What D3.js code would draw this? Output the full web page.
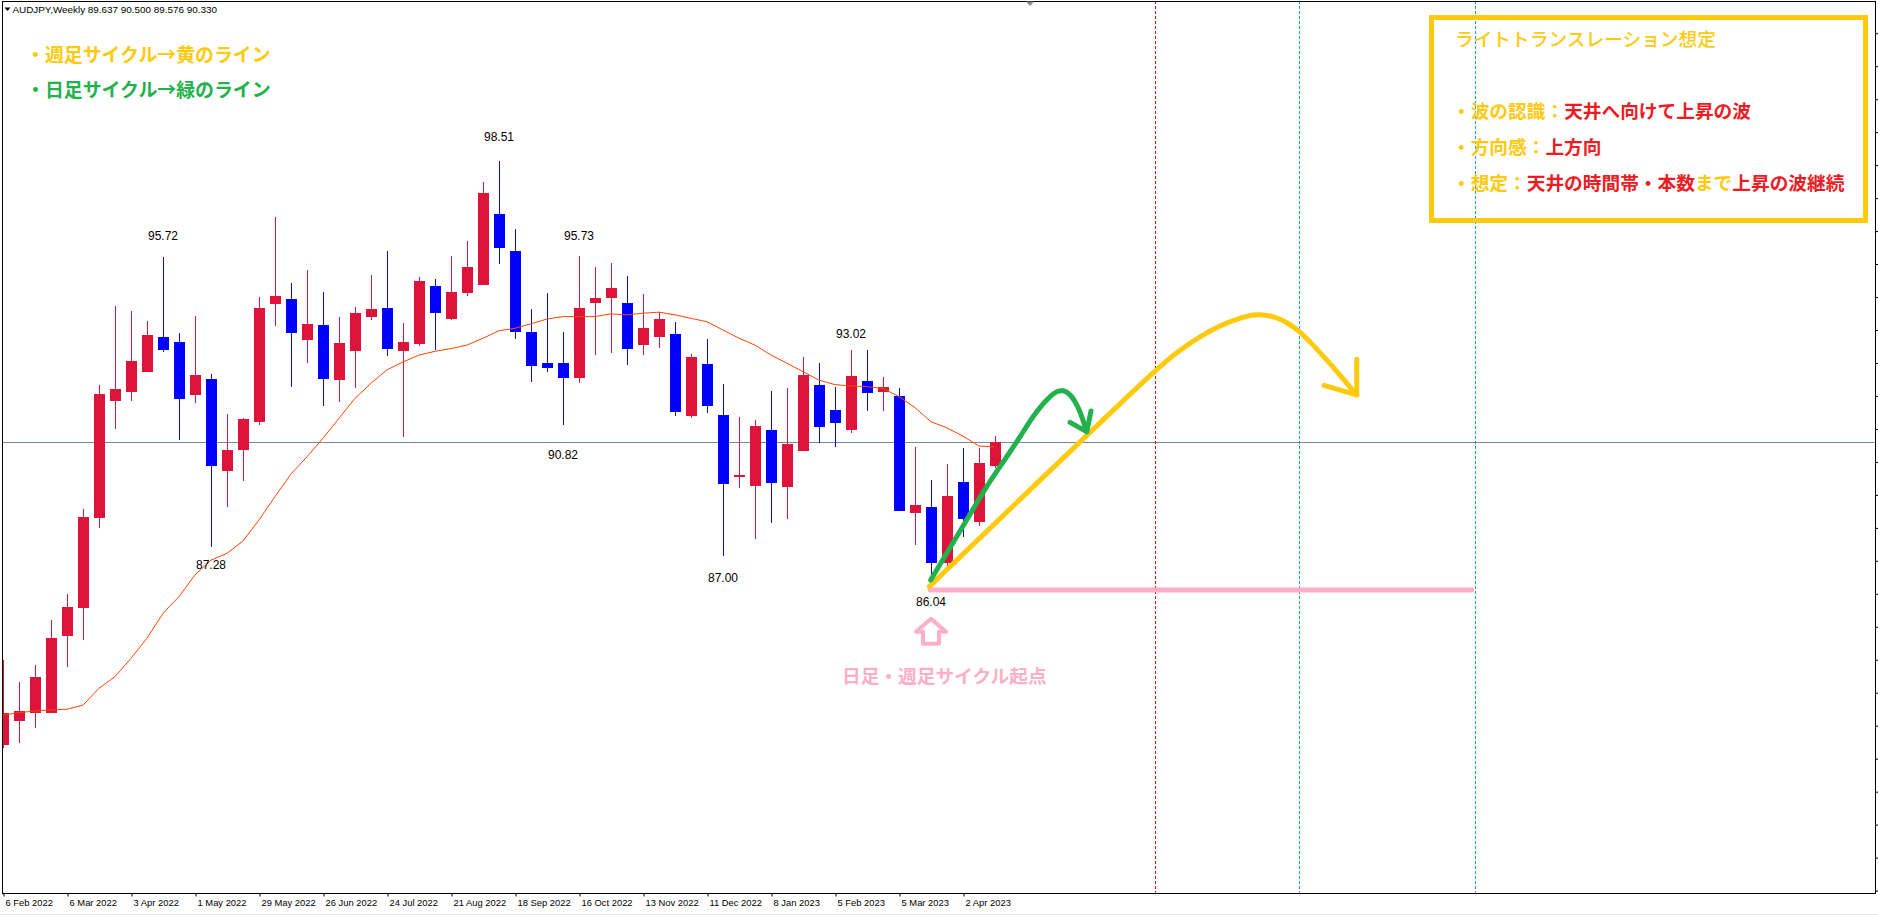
<!DOCTYPE html>
<html><head><meta charset="utf-8">
<script src="https://cdn.jsdelivr.net/npm/d3@7"></script>
<style>html,body{margin:0;padding:0;background:#fff;overflow:hidden}</style>
</head><body>
<svg id="c" width="1878" height="915"></svg>
<script>
// ---------------- DATA ----------------
const dateLabels = ["6 Feb 2022","6 Mar 2022","3 Apr 2022","1 May 2022","29 May 2022","26 Jun 2022","24 Jul 2022","21 Aug 2022","18 Sep 2022","16 Oct 2022","13 Nov 2022","11 Dec 2022","8 Jan 2023","5 Feb 2023","5 Mar 2023","2 Apr 2023"];
const dateLabelBars = [0,4,8,12,16,20,24,28,32,36,40,44,48,52,56,60];

const openP  = [81.51,82.22,82.45,82.43,84.69,85.51,88.13,91.53,91.79,92.38,93.39,93.24,91.71,92.16,89.49,90.11,90.92,94.36,94.49,93.31,93.74,92.13,92.99,93.98,94.23,92.99,93.18,94.87,93.91,94.67,94.91,96.97,95.89,93.53,92.62,92.62,92.20,94.39,94.53,94.38,93.15,93.39,93.47,91.09,92.60,91.12,89.31,89.06,90.68,89.03,90.08,91.99,91.26,90.69,92.11,91.79,91.67,88.27,88.44,86.80,89.17,88.01,89.637];
const highP  = [83.98,83.35,83.84,85.15,85.90,88.38,91.99,94.30,94.14,93.85,95.72,93.51,94.01,92.31,91.14,91.04,94.56,96.88,94.96,95.34,94.70,93.97,94.26,95.19,95.89,93.79,95.14,95.07,95.74,96.18,97.90,98.51,96.53,94.20,94.67,93.53,95.73,95.43,95.54,95.17,94.64,94.11,93.82,92.89,93.33,92.02,91.07,90.97,91.81,91.91,92.80,92.63,91.93,93.02,93.01,92.21,91.89,90.19,89.22,89.69,90.16,90.16,90.500];
const lowP   = [81.41,81.56,82.01,82.43,83.79,84.57,87.82,90.72,91.53,92.38,92.96,90.39,91.47,87.28,88.45,89.20,90.83,93.72,91.94,92.62,91.39,91.50,91.91,93.88,92.84,90.48,93.12,93.01,93.88,94.59,94.91,95.51,93.33,92.09,92.38,90.82,92.06,92.86,92.93,92.57,92.86,93.08,91.10,91.04,91.18,87.00,88.99,87.51,87.97,88.10,90.08,90.31,90.19,90.60,91.24,91.24,88.32,87.33,86.04,86.70,87.57,87.89,89.576];
const closeP = [82.43,82.50,83.50,84.63,85.54,88.16,91.73,91.87,92.70,93.44,93.02,91.59,92.28,89.64,90.10,91.00,94.23,94.59,93.49,93.77,92.16,93.21,94.09,94.20,93.05,93.24,95.02,94.09,94.70,95.42,97.58,95.99,93.54,92.55,92.49,92.20,94.23,94.52,94.81,93.05,93.65,93.91,91.20,92.80,91.39,89.11,89.36,90.80,89.14,90.28,92.28,90.78,90.89,92.25,91.77,91.92,88.33,88.50,86.82,88.77,88.10,89.72,90.330];
const maP    = [82.38,82.45,82.50,82.53,82.55,82.67,83.16,83.50,84.03,84.62,85.34,85.83,86.46,86.89,87.09,87.45,88.06,88.74,89.40,89.90,90.44,91.02,91.60,92.04,92.43,92.66,92.86,92.97,93.05,93.15,93.35,93.57,93.64,93.77,93.91,93.98,93.98,93.98,94.06,94.03,94.08,94.11,94.03,93.93,93.83,93.59,93.35,93.15,92.86,92.62,92.38,92.13,92.00,91.96,91.94,91.89,91.65,91.33,90.92,90.74,90.50,90.21,90.19];

const priceTicks = [102.23,101.27,100.31,99.35,98.39,97.43,96.47,95.51,94.55,93.59,92.63,91.67,90.71,89.75,88.79,87.83,86.87,85.91,84.95,83.99,83.03,82.07,81.11,80.15,79.19,78.23,77.27];

const swingBars   = [10, 13, 31, 35, 36, 45, 53, 58];
const swingValues = [95.72, 87.28, 98.51, 90.82, 95.73, 87.00, 93.02, 86.04];

const currentPrice = 90.330;
const headerText = "AUDJPY,Weekly  89.637 90.500 89.576 90.330";

// annotation drawings as [bar, price]
const yellowPath = [[57.89,86.12],[65.0,89.30],[72.11,92.48],[73.56,93.01],[74.81,93.40],[76.06,93.72],[77.31,93.95],[78.44,94.07],[79.50,93.98],[80.31,93.80],[81.06,93.54],[81.89,93.15],[82.73,92.72],[83.56,92.28],[84.61,91.70]];
const yellowHead = [[82.56,91.98],[84.61,91.70],[84.61,92.74]];
const greenPath  = [[57.98,86.31],[58.98,87.09],[60.23,88.06],[61.48,89.03],[62.73,89.90],[63.56,90.48],[64.39,91.07],[65.23,91.55],[65.86,91.79],[66.27,91.82],[66.69,91.70],[67.11,91.41],[67.42,91.07],[67.73,90.63]];
const greenHead  = [[66.69,90.90],[67.73,90.63],[68.0,91.23]];
const pinkLine   = [[57.94,86.02],[91.8,86.02]];
const redVLines  = [72];
const blueVLines = [81, 92];
const startBar = 58, startPrice = 86.04;

const legendLines = [
  {text:"・週足サイクル→黄のライン", color:"#FFC90E"},
  {text:"・日足サイクル→緑のライン", color:"#22B14C"}
];
const boxTitle = "ライトトランスレーション想定";
const boxLines = [
  [["・波の認識：","#FFC90E"],["天井へ向けて上昇の波","#ED1C24"]],
  [["・方向感：","#FFC90E"],["上方向","#ED1C24"]],
  [["・想定：","#FFC90E"],["天井の時間帯・本数","#ED1C24"],["まで","#FFC90E"],["上昇の波継続","#ED1C24"]]
];
const startNote = "日足・週足サイクル起点";

// ---------------- DRAW ----------------
const svg = d3.select("#c");
const L = 2, T = 1, R = 1875, B = 893;
const x = d3.scaleLinear().domain([0, 62]).range([3, 995]);
const y = d3.scaleLinear().domain([77.20, 103.168]).range([B, T]);

svg.append("rect").attr("width",1878).attr("height",915).attr("fill","#fff");
svg.append("defs").append("clipPath").attr("id","clip")
  .append("rect").attr("x",L+0.5).attr("y",T+0.5).attr("width",R-L-1).attr("height",B-T-1);

const plot = svg.append("g").attr("clip-path","url(#clip)");

// current price line (behind)
const cy = Math.round(y(currentPrice)) + 0.5;
plot.append("line").attr("x1",L).attr("x2",R).attr("y1",cy).attr("y2",cy)
  .attr("stroke","#778899").attr("stroke-width",1);

// vertical dashed lines
plot.selectAll(".vr").data(redVLines).join("line")
  .attr("x1",d=>Math.round(x(d))+0.5).attr("x2",d=>Math.round(x(d))+0.5)
  .attr("y1",T).attr("y2",B).attr("stroke","#E00000").attr("stroke-dasharray","3,2");
plot.selectAll(".vb").data(blueVLines).join("line")
  .attr("x1",d=>Math.round(x(d))+0.5).attr("x2",d=>Math.round(x(d))+0.5)
  .attr("y1",T).attr("y2",B).attr("stroke","#1E90FF").attr("stroke-dasharray","3,2");

// candles
const idx = d3.range(openP.length);
const up = i => closeP[i] >= openP[i];
const cg = plot.append("g").attr("shape-rendering","crispEdges");
cg.selectAll(".w").data(idx).join("line")
  .attr("x1",i=>Math.round(x(i))+0.5).attr("x2",i=>Math.round(x(i))+0.5)
  .attr("y1",i=>y(highP[i])).attr("y2",i=>y(lowP[i]))
  .attr("stroke",i=>up(i)?"#DC143C":"#0000FF");
cg.selectAll(".b").data(idx).join("rect")
  .attr("x",i=>Math.round(x(i))-5).attr("width",11)
  .attr("y",i=>y(Math.max(openP[i],closeP[i])))
  .attr("height",i=>Math.max(1.5, Math.abs(y(openP[i])-y(closeP[i]))))
  .attr("fill",i=>up(i)?"#DC143C":"#0000FF");

// moving average
plot.append("path").datum(idx)
  .attr("d", d3.line().x(i=>x(i)).y(i=>y(maP[i])))
  .attr("fill","none").attr("stroke","#FF4500").attr("stroke-width",1);

// swing labels
const swingDy = [-21, 18.3, -24.3, 29.8, -20.7, 21, -15.6, 12.3];
svg.selectAll(".sl").data(swingBars).join("text")
  .attr("x",(d)=>x(d)).attr("y",(d,i)=>y(swingValues[i])+swingDy[i])
  .attr("dy","0.35em").attr("text-anchor","middle")
  .attr("font-family","'Liberation Sans', Arial, sans-serif").attr("font-size",12)
  .attr("fill","#000").text((d,i)=>swingValues[i].toFixed(2));

// frame
svg.append("rect").attr("x",L+0.5).attr("y",T+0.5).attr("width",R-L).attr("height",B-T)
  .attr("fill","none").attr("stroke","#000").attr("stroke-width",1).attr("shape-rendering","crispEdges");
svg.append("line").attr("x1",0).attr("x2",1878).attr("y1",914.5).attr("y2",914.5).attr("stroke","#e3e3e3");

// time axis
const xAxis = d3.axisBottom(x).tickValues(dateLabelBars).tickSize(3).tickFormat((d,i)=>dateLabels[i]);
const gx = svg.append("g").attr("transform",`translate(0,${B+0.5})`).call(xAxis);
gx.select(".domain").remove();
gx.selectAll("line").attr("stroke","#000").attr("transform","translate(0.5,0)");
gx.selectAll("text").attr("text-anchor","start").attr("x",2).attr("y",9.5).attr("dy","0.32em")
  .attr("font-family","'Liberation Sans', Arial, sans-serif").attr("font-size",9.4).attr("fill","#000");

// price axis ticks (labels are off-canvas)
const yAxis = d3.axisRight(y).tickValues(priceTicks).tickSize(3).tickFormat("");
const gy = svg.append("g").attr("transform",`translate(${R+0.5},0)`).call(yAxis);
gy.select(".domain").remove();
gy.selectAll("line").attr("stroke","#000");

// header
svg.append("polygon").attr("points","4.5,7.5 10.5,7.5 7.5,11").attr("fill","#000");
svg.append("text").attr("x",12.5).attr("y",9.5).attr("dy","0.35em")
  .attr("font-family","'Liberation Sans', Arial, sans-serif").attr("font-size",9.9).attr("fill","#000")
  .text(headerText);
svg.append("polygon").attr("points","1026,1.5 1034,1.5 1030,6").attr("fill","#8a8a8a");

// drawings
const dl = d3.line().x(d=>x(d[0])).y(d=>y(d[1]));
const dlc = d3.line().x(d=>x(d[0])).y(d=>y(d[1])).curve(d3.curveCatmullRom.alpha(0.5));
const dlb = d3.line().x(d=>x(d[0])).y(d=>y(d[1])).curve(d3.curveBasis);
const draw = svg.append("g").attr("fill","none").attr("stroke-linecap","round").attr("stroke-linejoin","round");
draw.append("path").attr("d",dl(pinkLine)).attr("stroke","#FFAEC9").attr("stroke-width",5);
draw.append("path").attr("d",dlb(yellowPath)).attr("stroke","#FFC90E").attr("stroke-width",5);
draw.append("path").attr("d",dl(yellowHead)).attr("stroke","#FFC90E").attr("stroke-width",5);
draw.append("path").attr("d",dlc(greenPath)).attr("stroke","#22B14C").attr("stroke-width",5);
draw.append("path").attr("d",dl(greenHead)).attr("stroke","#22B14C").attr("stroke-width",5);

// hollow pink arrow below the start point
const ax = x(startBar), ay = y(startPrice) + 29.5;
draw.append("path")
  .attr("d",`M${ax},${ay} L${ax+15},${ay+13} L${ax+8},${ay+13} L${ax+8},${ay+25} L${ax-8},${ay+25} L${ax-8},${ay+13} L${ax-15},${ay+13} Z`)
  .attr("stroke","#FFAEC9").attr("stroke-width",4).attr("fill","#fff");

const jp = "'Noto Sans CJK JP','Noto Sans CJK SC',sans-serif";
svg.append("text").attr("x",842).attr("y",y(startPrice)+87).attr("dy","0.35em")
  .attr("font-family",jp).attr("font-size",18.7).attr("font-weight","bold").attr("fill","#FFAEC9").text(startNote);

// legend texts (top-left)
svg.selectAll(".lg").data(legendLines).join("text")
  .attr("x",26).attr("y",(d,i)=>55+i*35).attr("dy","0.35em")
  .attr("font-family",jp).attr("font-size",18.9).attr("font-weight","bold")
  .attr("fill",d=>d.color).text(d=>d.text);

// info box
svg.append("rect").attr("x",1431.5).attr("y",17.5).attr("width",434).attr("height",203)
  .attr("fill","none").attr("stroke","#FFC90E").attr("stroke-width",5);
svg.append("text").attr("x",1455).attr("y",39).attr("dy","0.35em")
  .attr("font-family",jp).attr("font-size",18.7).attr("font-weight",500).attr("fill","#FFC90E").text(boxTitle);
const lineY = [111.7, 147.7, 183.3];
boxLines.forEach((segs,i)=>{
  const t = svg.append("text").attr("x",1452).attr("y",lineY[i]).attr("dy","0.35em")
    .attr("font-family",jp).attr("font-size",18.7).attr("font-weight","bold");
  segs.forEach(s=>t.append("tspan").attr("fill",s[1]).text(s[0]));
});
</script>
</body></html>
